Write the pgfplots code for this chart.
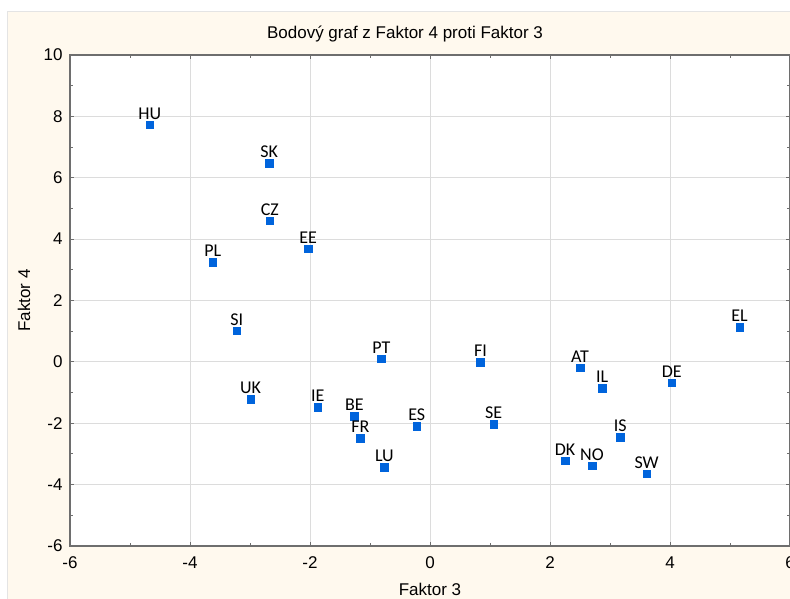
\documentclass[border=0pt]{standalone}
\usepackage{fontspec}
\setmainfont{Liberation Sans}
\newfontfamily\carlito{Carlito}
\usepackage{pgfplots}
\pgfplotsset{compat=1.18}
\definecolor{bgbeige}{HTML}{FFF9EE}
\definecolor{framegray}{HTML}{E4E4E4}
\definecolor{axgray}{HTML}{6E6E6E}
\definecolor{gridgray}{HTML}{DCDCDC}
\definecolor{ptblue}{HTML}{0064DC}
\begin{document}
\begin{tikzpicture}
\useasboundingbox (0,0) rectangle (790pt,598pt);
\filldraw[fill=bgbeige, draw=framegray, line width=1pt] (7pt,-5pt) rectangle (810pt,586pt);
\node[anchor=base, inner sep=0pt, font=\fontsize{17}{17}\selectfont] at (405pt,559pt) {Bodový graf z Faktor 4 proti Faktor 3};
\begin{axis}[
  at={(70pt,52pt)}, anchor=south west,
  scale only axis, width=720pt, height=491pt,
  xmin=-6, xmax=6, ymin=-6, ymax=10,
  xtick={-6,-4,...,6}, ytick={-6,-4,...,10},
  minor x tick num=1, minor y tick num=1,
  tick align=inside,
  major tick length=4pt, minor tick length=3pt,
  every tick/.style={axgray, line width=1pt},
  axis line style={axgray, line width=1.3pt},
  axis background/.style={fill=white},
  grid=major,
  major grid style={gridgray, line width=1pt},
  /pgf/number format/assume math mode=true,
  tick label style={font=\fontsize{17}{17}\selectfont, black},
  xticklabel style={yshift=-7pt},
  yticklabel style={xshift=-4pt},
  xlabel={Faktor 3}, ylabel={Faktor 4},
  label style={font=\fontsize{17}{17}\selectfont, black},
  xlabel style={at={(axis description cs:0.5,0)}, anchor=north, inner sep=0pt, yshift=-37pt},
  ylabel style={at={(axis description cs:-0.0639,0.5)}, anchor=center, inner sep=0pt},
]
\addplot[only marks, mark=square*, mark size=3.8pt, color=ptblue,
  mark options={rounded corners=1pt},
  nodes near coords, point meta=explicit symbolic,
  nodes near coords align={anchor=base},
  every node near coord/.append style={anchor=base, inner sep=0pt, yshift=5.5pt, text=black, font=\carlito\fontsize{18}{18}\selectfont},
] table[meta=label] {
x y label
-4.67 7.73 HU
-2.68 6.48 SK
-2.67 4.60 CZ
-2.03 3.69 EE
-3.62 3.25 PL
-3.22 1.02 SI
-2.99 -1.22 UK
-0.81 0.10 PT
-1.87 -1.48 IE
-1.26 -1.77 BE
-1.16 -2.49 FR
-0.22 -2.10 ES
-0.76 -3.43 LU
0.84 -0.02 FI
1.06 -2.03 SE
2.50 -0.19 AT
2.87 -0.85 IL
4.03 -0.68 DE
3.17 -2.46 IS
2.25 -3.22 DK
2.70 -3.38 NO
3.61 -3.64 SW
5.16 1.13 EL
};
\end{axis}
\end{tikzpicture}
\end{document}
